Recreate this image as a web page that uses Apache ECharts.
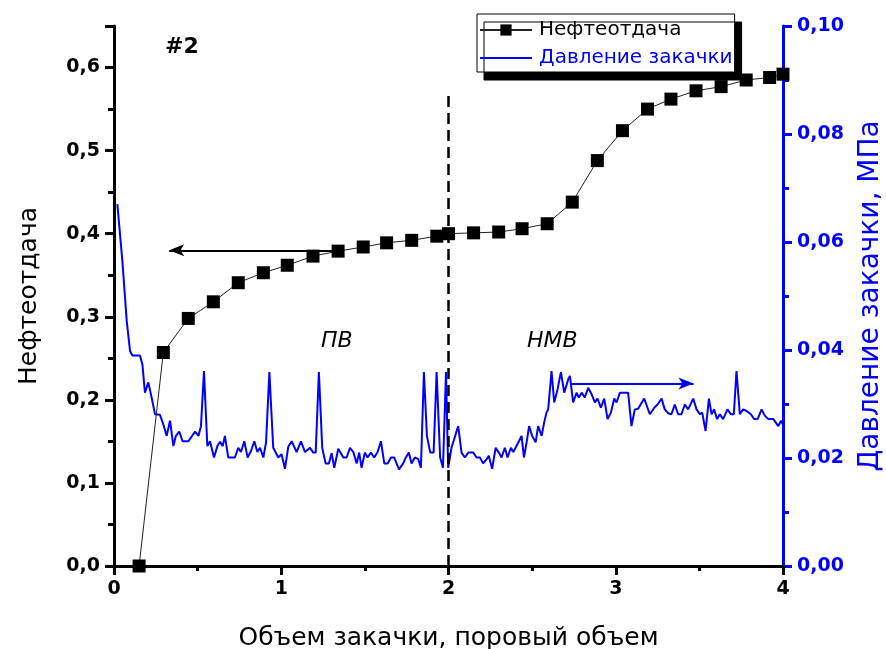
<!DOCTYPE html>
<html>
<head>
<meta charset="utf-8">
<script src="https://cdn.jsdelivr.net/npm/echarts@6/dist/echarts.min.js"></script>
<style>
  html, body { margin: 0; padding: 0; background: #fff; }
  #chart { width: 886px; height: 649px; }
</style>
</head>
<body>
<div id="chart"></div>
<script>
// Нефтеотдача (левая ось), [объем закачки, доля]
const recovery = [
  [0.15, 0.0], [0.295, 0.257], [0.444, 0.298], [0.594, 0.318], [0.743, 0.341],
  [0.893, 0.353], [1.036, 0.362], [1.19, 0.373], [1.34, 0.379], [1.49, 0.384],
  [1.63, 0.389], [1.78, 0.392], [1.93, 0.397], [2.0, 0.400], [2.15, 0.401],
  [2.30, 0.402], [2.44, 0.406], [2.59, 0.412], [2.74, 0.438], [2.89, 0.488],
  [3.04, 0.524], [3.19, 0.550], [3.33, 0.562], [3.48, 0.572], [3.63, 0.577],
  [3.78, 0.585], [3.92, 0.588], [4.0, 0.592]
];

// Давление закачки, МПа (правая ось)
const pressure = [
  [0.02, 0.067], [0.05, 0.0565], [0.076, 0.0454], [0.096, 0.0398], [0.11, 0.039],
  [0.155, 0.039], [0.17, 0.0373], [0.185, 0.0321], [0.205, 0.034], [0.225, 0.0312],
  [0.245, 0.0281], [0.275, 0.028], [0.295, 0.0262], [0.315, 0.0241], [0.335, 0.0269],
  [0.355, 0.0222], [0.37, 0.0241], [0.39, 0.0249], [0.41, 0.0231], [0.445, 0.0231],
  [0.485, 0.0249], [0.505, 0.0241], [0.52, 0.0259], [0.538, 0.0361], [0.558, 0.0222],
  [0.574, 0.0231], [0.598, 0.0201], [0.618, 0.0222], [0.634, 0.023], [0.65, 0.0222],
  [0.663, 0.0241], [0.683, 0.0201], [0.723, 0.0201], [0.743, 0.0219], [0.759, 0.0211],
  [0.779, 0.0231], [0.799, 0.0201], [0.819, 0.0213], [0.839, 0.0231], [0.857, 0.0211],
  [0.873, 0.0219], [0.893, 0.0201], [0.909, 0.0229], [0.929, 0.0359], [0.952, 0.0219],
  [0.982, 0.0201], [1.002, 0.0207], [1.022, 0.018], [1.042, 0.0221], [1.062, 0.0231],
  [1.092, 0.0211], [1.118, 0.0231], [1.142, 0.0211], [1.172, 0.0219], [1.191, 0.021],
  [1.206, 0.021], [1.225, 0.0359], [1.245, 0.0219], [1.265, 0.019], [1.285, 0.019],
  [1.301, 0.0209], [1.317, 0.0182], [1.341, 0.0217], [1.371, 0.0201], [1.391, 0.0201],
  [1.411, 0.0219], [1.431, 0.0211], [1.451, 0.019], [1.466, 0.021], [1.48, 0.0182],
  [1.5, 0.021], [1.516, 0.0201], [1.536, 0.021], [1.556, 0.0201], [1.576, 0.0211],
  [1.596, 0.0231], [1.616, 0.019], [1.636, 0.019], [1.656, 0.0201], [1.675, 0.0201],
  [1.704, 0.0179], [1.729, 0.019], [1.745, 0.0201], [1.763, 0.021], [1.779, 0.019],
  [1.799, 0.0201], [1.819, 0.0198], [1.835, 0.0182], [1.853, 0.0359], [1.871, 0.0241],
  [1.891, 0.021], [1.911, 0.021], [1.929, 0.0359], [1.95, 0.0201], [1.967, 0.0182],
  [1.985, 0.0359], [1.998, 0.0182], [2.018, 0.0219], [2.058, 0.0259], [2.078, 0.021],
  [2.098, 0.0201], [2.118, 0.021], [2.148, 0.021], [2.168, 0.0201], [2.188, 0.0201],
  [2.207, 0.019], [2.228, 0.0198], [2.241, 0.0204], [2.261, 0.018], [2.282, 0.0219],
  [2.301, 0.021], [2.317, 0.0201], [2.337, 0.0219], [2.353, 0.0201], [2.373, 0.0219],
  [2.387, 0.0211], [2.401, 0.0219], [2.421, 0.0231], [2.437, 0.0241], [2.451, 0.0201],
  [2.467, 0.0229], [2.482, 0.0259], [2.5, 0.0241], [2.521, 0.0229], [2.536, 0.0259],
  [2.557, 0.0241], [2.572, 0.0266], [2.586, 0.0284], [2.596, 0.029], [2.616, 0.0361],
  [2.632, 0.0303], [2.652, 0.0327], [2.672, 0.0359], [2.692, 0.0321], [2.716, 0.0346],
  [2.726, 0.0352], [2.745, 0.0303], [2.766, 0.0321], [2.779, 0.0312], [2.796, 0.0321],
  [2.815, 0.0312], [2.835, 0.033], [2.856, 0.0318], [2.875, 0.0303], [2.891, 0.031],
  [2.911, 0.0293], [2.931, 0.031], [2.951, 0.0272], [2.971, 0.0284], [2.991, 0.031],
  [3.005, 0.0303], [3.025, 0.0321], [3.074, 0.0321], [3.094, 0.0259], [3.114, 0.029],
  [3.134, 0.0291], [3.17, 0.031], [3.204, 0.0281], [3.23, 0.0293], [3.25, 0.0299],
  [3.274, 0.031], [3.293, 0.029], [3.313, 0.0283], [3.333, 0.0281], [3.353, 0.0299],
  [3.373, 0.0281], [3.393, 0.0281], [3.413, 0.0299], [3.433, 0.029], [3.463, 0.031],
  [3.483, 0.029], [3.503, 0.0281], [3.517, 0.0284], [3.537, 0.025], [3.557, 0.031],
  [3.573, 0.0281], [3.588, 0.029], [3.606, 0.0272], [3.622, 0.0281], [3.642, 0.0272],
  [3.668, 0.029], [3.688, 0.0281], [3.706, 0.0281], [3.722, 0.0361], [3.742, 0.0281],
  [3.762, 0.029], [3.782, 0.0287], [3.808, 0.0281], [3.828, 0.0272], [3.848, 0.0272],
  [3.872, 0.029], [3.892, 0.0278], [3.912, 0.0272], [3.942, 0.0272], [3.956, 0.0266],
  [3.972, 0.0259], [3.988, 0.0269], [4.0, 0.0262]
];

// стрелки и граница ПВ / НМВ
const boundaryX = 2.0;
const boundaryTop = 0.571;
const leftArrow = [[1.31, 0.380], [0.33, 0.380]];
const rightArrow = [[2.73, 0.0338], [3.465, 0.0338]];

const FONT = 'DejaVu Sans';
const BLUE = '#0000ff';

const comma = (v, d) => v.toFixed(d).replace('.', ',');

const chart = echarts.init(document.getElementById('chart'));

chart.setOption({
  animation: false,
  backgroundColor: '#fff',
  grid: { left: 114, right: 103, top: 26, bottom: 83, outerBoundsMode: 'none', containLabel: false },
  legend: {
    orient: 'vertical',
    left: 477,
    top: 14,
    padding: [6, 2, 4, 2],
    itemGap: 8,
    itemWidth: 52,
    itemHeight: 14,
    backgroundColor: '#fff',
    borderColor: '#000',
    borderWidth: 1,
    borderRadius: 0,
    shadowColor: '#000',
    shadowBlur: 0,
    shadowOffsetX: 7,
    shadowOffsetY: 8,
    textStyle: { fontFamily: FONT, fontSize: 20, padding: [0, 0, 0, 2] },
    data: [
      { name: 'Нефтеотдача', textStyle: { color: '#000' } },
      {
        name: 'Давление закачки',
        textStyle: { color: BLUE },
        itemStyle: { color: 'rgba(0,0,0,0)', borderWidth: 0 },
        lineStyle: { color: BLUE, width: 2 }
      }
    ]
  },
  xAxis: {
    type: 'value',
    min: 0,
    max: 4,
    interval: 1,
    name: 'Объем закачки, поровый объем',
    nameLocation: 'middle',
    nameGap: 60,
    nameTextStyle: { fontFamily: FONT, fontSize: 25, color: '#000' },
    axisLine: { show: true, onZero: false, lineStyle: { color: '#000', width: 3 } },
    axisTick: { show: true, length: 9, lineStyle: { color: '#000', width: 3 } },
    minorTick: { show: true, splitNumber: 2, length: 5, lineStyle: { color: '#000', width: 3 } },
    splitLine: { show: false },
    axisLabel: {
      margin: 14,
      fontFamily: FONT,
      fontSize: 19,
      fontWeight: 'bold',
      color: '#000',
      formatter: v => String(v)
    }
  },
  yAxis: [
    {
      type: 'value',
      position: 'left',
      min: 0,
      max: 0.65,
      interval: 0.1,
      name: 'Нефтеотдача',
      nameLocation: 'middle',
      nameGap: 72,
      nameTextStyle: { fontFamily: FONT, fontSize: 25, color: '#000' },
      axisLine: { show: true, onZero: false, lineStyle: { color: '#000', width: 3 } },
      axisTick: { show: true, length: 9, lineStyle: { color: '#000', width: 3 } },
      minorTick: { show: true, splitNumber: 2, length: 6, lineStyle: { color: '#000', width: 3 } },
      splitLine: { show: false },
      axisLabel: {
        margin: 14,
        fontFamily: FONT,
        fontSize: 19,
        fontWeight: 'bold',
        color: '#000',
        formatter: v => Math.abs(v * 10 - Math.round(v * 10)) < 1e-6 ? comma(v, 1) : ''
      }
    },
    {
      type: 'value',
      position: 'right',
      min: 0,
      max: 0.1,
      interval: 0.02,
      name: 'Давление закачки, МПа',
      nameLocation: 'middle',
      nameGap: 74,
      nameTextStyle: { fontFamily: FONT, fontSize: 28, color: BLUE },
      axisLine: { show: true, onZero: false, lineStyle: { color: BLUE, width: 3 } },
      axisTick: { show: true, length: 9, lineStyle: { color: BLUE, width: 3 } },
      minorTick: { show: true, splitNumber: 2, length: 6, lineStyle: { color: BLUE, width: 3 } },
      splitLine: { show: false },
      axisLabel: {
        margin: 14,
        fontFamily: FONT,
        fontSize: 19,
        fontWeight: 'bold',
        color: BLUE,
        formatter: v => comma(v, 2)
      }
    }
  ],
  graphic: [
    { type: 'text', left: 165, top: 36, style: { text: '#2', fontFamily: FONT, fontSize: 22, fontWeight: 'bold', fill: '#000' } },
    { type: 'text', left: 321, top: 330, style: { text: 'ПВ', fontFamily: FONT, fontSize: 22, fontStyle: 'italic', fill: '#000' } },
    { type: 'text', left: 527, top: 330, style: { text: 'НМВ', fontFamily: FONT, fontSize: 22, fontStyle: 'italic', fill: '#000' } }
  ],
  series: [
    {
      name: 'Давление закачки',
      type: 'line',
      yAxisIndex: 1,
      data: pressure,
      symbol: 'none',
      color: BLUE,
      lineStyle: { color: BLUE, width: 2 },
      z: 2,
      markLine: {
        silent: true,
        symbol: ['none', 'arrow'],
        symbolSize: [9, 15],
        label: { show: false },
        lineStyle: { color: BLUE, width: 2, type: 'solid' },
        data: [[{ coord: rightArrow[0] }, { coord: rightArrow[1] }]]
      }
    },
    {
      name: 'Нефтеотдача',
      type: 'line',
      yAxisIndex: 0,
      data: recovery,
      symbol: 'rect',
      symbolSize: 13,
      color: '#000',
      itemStyle: { color: '#000' },
      lineStyle: { color: '#222', width: 1 },
      z: 3,
      markLine: {
        silent: true,
        label: { show: false },
        data: [
          [
            { coord: [boundaryX, 0], symbol: 'none', lineStyle: { color: '#000', width: 2.5, type: [11, 6] } },
            { coord: [boundaryX, boundaryTop], symbol: 'none' }
          ],
          [
            { coord: leftArrow[0], symbol: 'none', lineStyle: { color: '#000', width: 2, type: 'solid' } },
            { coord: leftArrow[1], symbol: 'arrow', symbolSize: [9, 15] }
          ]
        ]
      }
    }
  ]
});
</script>
</body>
</html>
